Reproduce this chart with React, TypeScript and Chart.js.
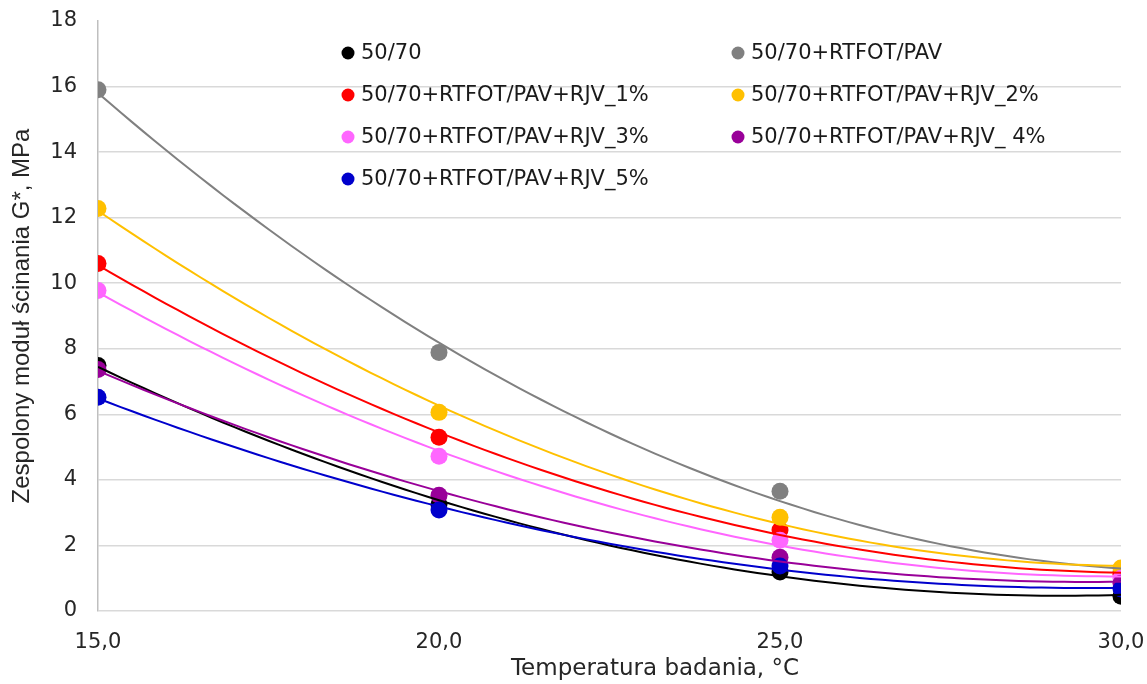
import React, { useEffect, useRef } from "react";
import { Chart, registerables } from "chart.js";

Chart.register(...registerables);

const X_VALUES = [15, 20, 25, 30];
const SERIES_NAMES = [
  "50/70",
  "50/70+RTFOT/PAV",
  "50/70+RTFOT/PAV+RJV_1%",
  "50/70+RTFOT/PAV+RJV_2%",
  "50/70+RTFOT/PAV+RJV_3%",
  "50/70+RTFOT/PAV+RJV_ 4%",
  "50/70+RTFOT/PAV+RJV_5%",
];
const S_BASE = [7.49, 3.25, 1.19, 0.45];
const S_AGED = [15.9, 7.89, 3.65, 1.2];
const S_RJV1 = [10.6, 5.3, 2.47, 1.12];
const S_RJV2 = [12.28, 6.06, 2.86, 1.31];
const S_RJV3 = [9.78, 4.72, 2.16, 1.0];
const S_RJV4 = [7.37, 3.53, 1.64, 0.85];
const S_RJV5 = [6.52, 3.08, 1.37, 0.67];
const SERIES_VALUES = [S_BASE, S_AGED, S_RJV1, S_RJV2, S_RJV3, S_RJV4, S_RJV5];
const COLORS = ["#000000", "#808080", "#FF0000", "#FFC000", "#FF66FF", "#990099", "#0000CC"];
const Y_TICKS = [0, 2, 4, 6, 8, 10, 12, 14, 16, 18];
const X_TICKS = [15, 20, 25, 30];
const X_TITLE = "Temperatura badania, °C";
const Y_TITLE = "Zespolony moduł ścinania G*, MPa";

// Least-squares 2nd order polynomial trendline (as in the original spreadsheet chart)
function quadFit(xs: number[], ys: number[]) {
  let s0 = 0, s1 = 0, s2 = 0, s3 = 0, s4 = 0, t0 = 0, t1 = 0, t2 = 0;
  for (let i = 0; i < xs.length; i++) {
    const x = xs[i], y = ys[i];
    s0 += 1; s1 += x; s2 += x * x; s3 += x * x * x; s4 += x * x * x * x;
    t0 += y; t1 += x * y; t2 += x * x * y;
  }
  const M = [
    [s0, s1, s2, t0],
    [s1, s2, s3, t1],
    [s2, s3, s4, t2],
  ];
  for (let c = 0; c < 3; c++) {
    let p = c;
    for (let r = c + 1; r < 3; r++) if (Math.abs(M[r][c]) > Math.abs(M[p][c])) p = r;
    [M[c], M[p]] = [M[p], M[c]];
    for (let r = 0; r < 3; r++) {
      if (r === c) continue;
      const f = M[r][c] / M[c][c];
      for (let k = c; k < 4; k++) M[r][k] -= f * M[c][k];
    }
  }
  const a = M[0][3] / M[0][0], b = M[1][3] / M[1][1], cc = M[2][3] / M[2][2];
  return (x: number) => a + b * x + cc * x * x;
}

function trendPoints(ys: number[]) {
  const f = quadFit(X_VALUES, ys);
  const pts: { x: number; y: number }[] = [];
  const x0 = X_VALUES[0], x1 = X_VALUES[X_VALUES.length - 1];
  const n = 90;
  for (let i = 0; i <= n; i++) {
    const x = x0 + ((x1 - x0) * i) / n;
    pts.push({ x, y: f(x) });
  }
  return pts;
}

const legendPlugin = {
  id: "twoColLegend",
  afterDatasetsDraw(chart: any) {
    const ctx = chart.ctx;
    const colX = [348, 738];
    const rowY = [53, 95, 137, 179];
    ctx.save();
    ctx.font = "21px 'DejaVu Sans'";
    ctx.textBaseline = "middle";
    ctx.textAlign = "left";
    SERIES_NAMES.forEach((name, i) => {
      const cx = colX[i % 2];
      const cy = rowY[Math.floor(i / 2)];
      ctx.beginPath();
      ctx.fillStyle = COLORS[i];
      ctx.arc(cx, cy, 6.5, 0, Math.PI * 2);
      ctx.fill();
      ctx.fillStyle = "#1a1a1a";
      ctx.fillText(name, cx + 13, cy + 1);
    });
    // x-axis title (placed as in the original, right of centre)
    ctx.font = "23px 'DejaVu Sans'";
    ctx.textAlign = "center";
    ctx.fillStyle = "#262626";
    ctx.fillText(X_TITLE, 655, 669);
    ctx.restore();
  },
};

export default function App() {
  const ref = useRef<HTMLCanvasElement | null>(null);
  useEffect(() => {
    document.body.style.margin = "0";
    if (!ref.current) return;
    const datasets: any[] = [];
    SERIES_VALUES.forEach((vals, i) => {
      datasets.push({
        label: SERIES_NAMES[i],
        data: X_VALUES.map((x, j) => ({ x, y: vals[j] })),
        backgroundColor: COLORS[i],
        borderColor: COLORS[i],
        pointRadius: 8.5,
        pointBorderWidth: 0,
        showLine: false,
        order: 20 - i,
      });
    });
    SERIES_VALUES.forEach((vals, i) => {
      datasets.push({
        label: SERIES_NAMES[i] + " trend",
        data: trendPoints(vals),
        borderColor: COLORS[i],
        backgroundColor: COLORS[i],
        borderWidth: 2,
        pointRadius: 0,
        showLine: true,
        tension: 0,
        order: 10 - i,
      });
    });
    const chart = new Chart(ref.current, {
      type: "scatter",
      data: { datasets },
      plugins: [legendPlugin],
      options: {
        animation: false,
        responsive: false,
        devicePixelRatio: 1,
        layout: { padding: { left: 0, top: 21, right: 26, bottom: 0 } },
        plugins: { legend: { display: false }, tooltip: { enabled: false } },
        scales: {
          x: {
            type: "linear",
            min: 15,
            max: 30,
            afterBuildTicks: (s: any) => {
              s.ticks = X_TICKS.map((v) => ({ value: v }));
            },
            afterFit: (s: any) => {
              s.height = 73;
              s.paddingLeft = 0;
              s.paddingRight = 0;
            },
            ticks: {
              padding: 19,
              color: "#262626",
              font: { family: "'DejaVu Sans'", size: 21 },
              callback: (v: any) => Number(v).toFixed(1).replace(".", ","),
            },
            grid: { display: false, drawTicks: false },
            border: { display: false },
            title: { display: false },
          },
          y: {
            min: 0,
            max: 18,
            afterBuildTicks: (s: any) => {
              s.ticks = Y_TICKS.map((v) => ({ value: v }));
            },
            afterFit: (s: any) => {
              s.width = 98;
              s.paddingTop = 0;
              s.paddingBottom = 0;
            },
            ticks: {
              padding: 21,
              color: "#262626",
              font: { family: "'DejaVu Sans'", size: 21 },
            },
            grid: {
              drawTicks: false,
              lineWidth: 1.5,
              color: (c: any) => (c.tick && c.tick.value === 18 ? "rgba(0,0,0,0)" : "#d9d9d9"),
            },
            border: { display: true, color: "#bfbfbf", width: 1.5 },
            title: {
              display: true,
              text: Y_TITLE,
              color: "#262626",
              font: { family: "'Liberation Sans'", size: 24 },
              padding: { top: 8, bottom: 0 },
            },
          },
        },
      } as any,
    });
    return () => chart.destroy();
  }, []);
  return (
    <div style={{ width: 1147, height: 684 }}>
      <canvas ref={ref} width={1147} height={684} style={{ display: "block" }} />
    </div>
  );
}
